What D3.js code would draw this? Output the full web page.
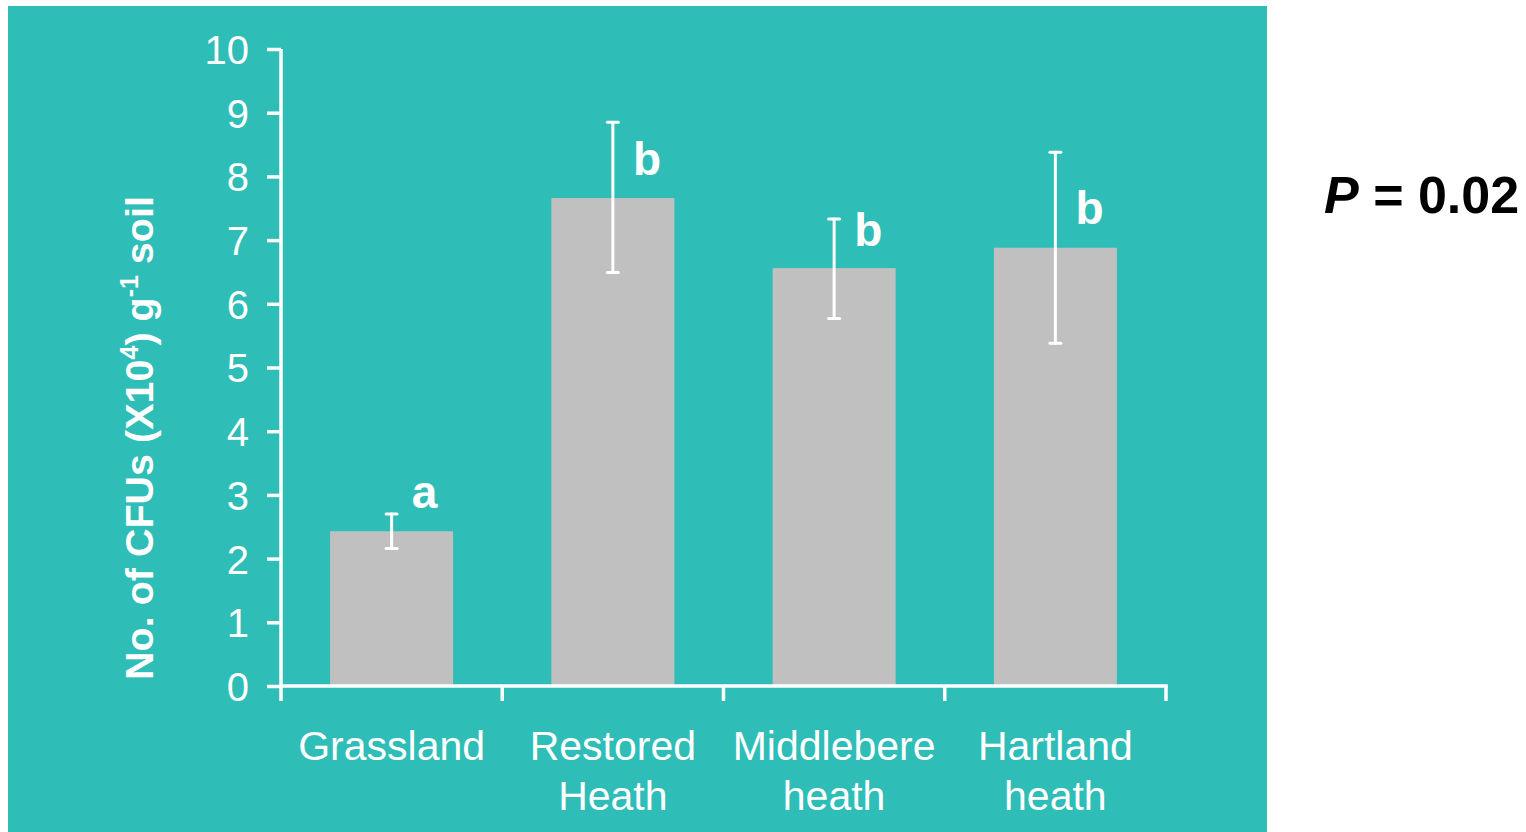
<!DOCTYPE html>
<html>
<head>
<meta charset="utf-8">
<script src="https://cdn.jsdelivr.net/npm/d3@7"></script>
<style>
  html, body { margin: 0; padding: 0; background: #ffffff; }
  svg { display: block; }
  text { font-family: "Liberation Sans", Arial, Helvetica, sans-serif; }
</style>
</head>
<body>
<svg id="chart" width="1526" height="832"></svg>
<script>
// Sites and their colony counts (CFUs x 10^4 per g soil)
const sites = ["Grassland", "Restored Heath", "Middlebere heath", "Hartland heath"];
const siteLines = [["Grassland"], ["Restored", "Heath"], ["Middlebere", "heath"], ["Hartland", "heath"]];
const means = [2.43, 7.66, 6.56, 6.88];
const errLow = [2.16, 6.49, 5.77, 5.38];
const errHigh = [2.70, 8.85, 7.33, 8.38];
const groupLetters = ["a", "b", "b", "b"];
const letterLevels = [2.79, 8.02, 6.91, 7.25];
const yTicks = [0, 1, 2, 3, 4, 5, 6, 7, 8, 9, 10];
const pValueText = "0.02";

const svg = d3.select("#chart");
const teal = "#2ebdb7";
const barGray = "#c0c0c0";

// panel background
svg.append("rect")
  .attr("x", 8).attr("y", 6)
  .attr("width", 1259).attr("height", 826)
  .attr("fill", teal);

const x0 = 281, x1 = 1166;
const x = d3.scaleBand().domain(sites).range([x0, x1]).paddingInner(0.444).paddingOuter(0.222);
const y = d3.scaleLinear().domain([0, 10]).range([686, 49]);

// bars
svg.append("g").selectAll("rect")
  .data(sites)
  .join("rect")
  .attr("x", d => x(d))
  .attr("width", x.bandwidth())
  .attr("y", (d, i) => y(means[i]))
  .attr("height", (d, i) => y(0) - y(means[i]))
  .attr("fill", barGray);

// error bars
const eb = svg.append("g").attr("stroke", "#ffffff").attr("stroke-width", 3).attr("stroke-linecap", "round");
sites.forEach((s, i) => {
  const cx = x(s) + x.bandwidth() / 2;
  eb.append("line").attr("x1", cx).attr("x2", cx).attr("y1", y(errLow[i])).attr("y2", y(errHigh[i]));
  eb.append("line").attr("x1", cx - 5.5).attr("x2", cx + 5.5).attr("y1", y(errLow[i])).attr("y2", y(errLow[i]));
  eb.append("line").attr("x1", cx - 5.5).attr("x2", cx + 5.5).attr("y1", y(errHigh[i])).attr("y2", y(errHigh[i]));
});

// significance letters
svg.append("g").selectAll("text")
  .data(sites)
  .join("text")
  .attr("x", d => x(d) + x.bandwidth() / 2 + 20)
  .attr("y", (d, i) => y(letterLevels[i]))
  .attr("fill", "#ffffff")
  .attr("font-weight", "bold")
  .attr("font-size", 46)
  .text((d, i) => groupLetters[i]);

// y axis
const yAxis = svg.append("g")
  .attr("transform", `translate(${x0},0)`)
  .call(d3.axisLeft(y).tickValues(yTicks).tickSize(14).tickPadding(18).tickFormat(d3.format("d")));
yAxis.select(".domain").attr("stroke", "#ffffff").attr("stroke-width", 3.5)
  .attr("d", `M0,${y(10)}V${y(0) + 1.75}`);
yAxis.selectAll(".tick line").attr("stroke", "#ffffff").attr("stroke-width", 3.5);
yAxis.selectAll(".tick text").attr("fill", "#ffffff").attr("font-size", 40)
  .attr("font-family", "'Liberation Sans', Arial, sans-serif").attr("dy", "0.36em");

// x axis with boundary ticks between categories
const xAxisG = svg.append("g");
xAxisG.append("line")
  .attr("x1", x0 - 1.75).attr("x2", x1 + 1.75)
  .attr("y1", y(0)).attr("y2", y(0))
  .attr("stroke", "#ffffff").attr("stroke-width", 3.5);
const bounds = sites.map(s => x(s) - x.step() * x.paddingInner() / 2);
bounds[0] = x0;
bounds.push(x1);
xAxisG.selectAll("line.bt")
  .data(bounds)
  .join("line")
  .attr("class", "bt")
  .attr("x1", d => d).attr("x2", d => d)
  .attr("y1", y(0)).attr("y2", y(0) + 15)
  .attr("stroke", "#ffffff").attr("stroke-width", 3.5);

// category labels
const lab = svg.append("g").selectAll("text")
  .data(sites)
  .join("text")
  .attr("x", d => x(d) + x.bandwidth() / 2)
  .attr("y", 760)
  .attr("text-anchor", "middle")
  .attr("fill", "#ffffff")
  .attr("font-size", 41);
lab.each(function (d, i) {
  const t = d3.select(this);
  siteLines[i].forEach((ln, k) => {
    t.append("tspan").attr("x", x(d) + x.bandwidth() / 2).attr("dy", k === 0 ? 0 : 50).text(ln);
  });
});

// y axis title
const yt = svg.append("text")
  .attr("transform", "translate(153,438) rotate(-90)")
  .attr("text-anchor", "middle")
  .attr("fill", "#ffffff")
  .attr("font-weight", "bold")
  .attr("font-size", 39.5);
yt.append("tspan").text("No. of CFUs (X10");
yt.append("tspan").attr("dy", -15).attr("font-size", 25).text("4");
yt.append("tspan").attr("dy", 15).text(") g");
yt.append("tspan").attr("dy", -15).attr("font-size", 25).text("-1");
yt.append("tspan").attr("dy", 15).text(" soil");

// P value annotation
const pt = svg.append("text")
  .attr("x", 1324).attr("y", 213)
  .attr("fill", "#000000")
  .attr("font-weight", "bold")
  .attr("font-size", 52);
pt.append("tspan").attr("font-style", "italic").text("P");
pt.append("tspan").text(" = " + pValueText);
</script>
</body>
</html>
